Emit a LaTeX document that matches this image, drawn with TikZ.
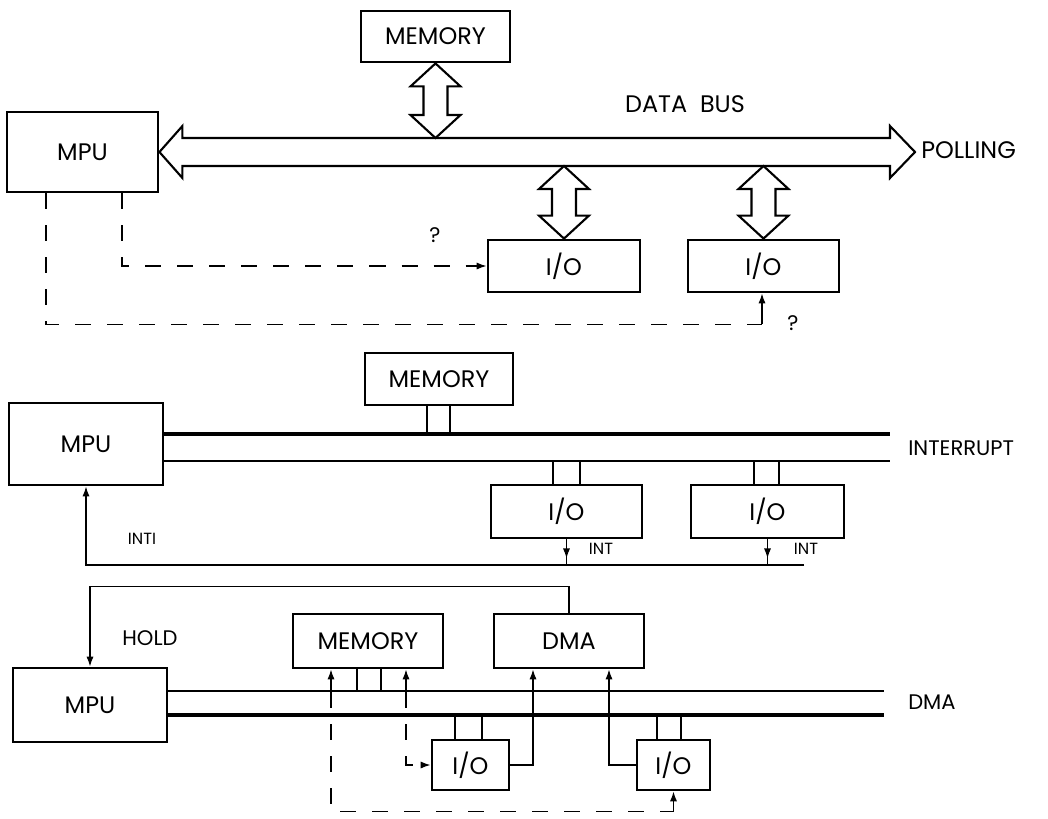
\documentclass[tikz,border=0pt]{standalone}
\usepackage{fontspec}
\setmainfont{Poppins}
\usetikzlibrary{arrows.meta,calc}
\newcommand\vdarrow[2]{\draw[fatarrow] (#1) -- ++(25,23) -- ++(-13,0) -- ($(#2)+(12,-23)$) -- ++(13,0) -- (#2) -- ++(-25,-23) -- ++(13,0) -- ($(#1)+(-12,23)$) -- ++(-13,0) -- cycle;}
\begin{document}
\begin{tikzpicture}[x=0.025cm,y=-0.025cm,
  box/.style={draw,line width=2pt,inner sep=0pt,font=\fontsize{17}{20}\selectfont},
  bigtxt/.style={font=\fontsize{17}{20}\selectfont,inner sep=0pt},
  midtxt/.style={font=\fontsize{15}{18}\selectfont,inner sep=0pt},
  smalltxt/.style={font=\fontsize{11.5}{13}\selectfont,inner sep=0pt},
  qtxt/.style={font=\fontsize{15}{18}\selectfont,inner sep=0pt},
  wire/.style={line width=1pt},
  thinbus/.style={line width=1.4pt},
  thickbus/.style={line width=2.2pt},
  dashwire/.style={line width=1pt,dash pattern=on 0.4cm off 0.4cm},
  tip/.style={-{Latex[length=0.25cm,width=0.18cm]}},
  fatarrow/.style={line width=1.5pt,fill=white,line join=miter},
]
\useasboundingbox (0,0) rectangle (1048,818);

% ---------- POLLING ----------
\node[box,minimum width=3.725cm,minimum height=1.275cm] (mem1) at (435.5,36.5) {MEMORY};
\node[box,minimum width=3.775cm,minimum height=2cm] (mpu1) at (82.5,152) {MPU};
\node[box,minimum width=3.8cm,minimum height=1.3cm] (io1a) at (564,266) {I/O};
\node[box,minimum width=3.775cm,minimum height=1.3cm] (io1b) at (763.5,266) {I/O};
\coordinate (pollR) at (915,152);
\coordinate (b1t) at ($(mpu1.east)+(0,-14)$);
\coordinate (b1b) at ($(mpu1.east)+(0,14)$);
\node[bigtxt] (databus) at (685,104) {DATA\ \ BUS};
\node[bigtxt,anchor=west] (polling) at (921,150) {POLLING};

\draw[fatarrow] (mpu1.east) -- ++(23,-26) -- ++(0,12) -- ($(pollR)+(-25,-14)$) -- ++(0,-12) -- (pollR) -- ++(-25,26) -- ++(0,-12) -- ($(mpu1.east)+(23,14)$) -- ++(0,12) -- cycle;
\coordinate (m1b) at (mem1.south |- b1t);
\vdarrow{mem1.south}{m1b}
\coordinate (i1at) at (io1a.north |- b1b);
\vdarrow{i1at}{io1a.north}
\coordinate (i1bt) at (io1b.north |- b1b);
\vdarrow{i1bt}{io1b.north}

\draw[dashwire,tip] ($(mpu1.south)+(39.5,0)$) |- (io1a.west);
\coordinate (p2c) at ($(io1b.south)+(-1.5,31)$);
\draw[dashwire] ($(mpu1.south)+(-36.5,0)$) |- (p2c);
\draw[wire,tip] (p2c) -- ($(io1b.south)+(-1.5,0)$);
\node[qtxt] (q1) at (435,235) {?};
\node[qtxt] (q2) at (793,323) {?};

% ---------- INTERRUPT ----------
\node[box,minimum width=3.7cm,minimum height=1.3cm] (mem2) at (439,379) {MEMORY};
\node[box,minimum width=3.85cm,minimum height=2.05cm] (mpu2) at (86,444) {MPU};
\node[box,minimum width=3.775cm,minimum height=1.325cm] (io2a) at (566.5,511.5) {I/O};
\node[box,minimum width=3.825cm,minimum height=1.325cm] (io2b) at (767.5,511.5) {I/O};
\coordinate (b2t) at ($(mpu2.east)+(0,-10)$);
\coordinate (b2b) at ($(mpu2.east)+(0,17)$);
\coordinate (b2end) at (890,447);
\draw[thickbus] (b2t) -- (b2t -| b2end);
\draw[thinbus] (b2b) -- (b2b -| b2end);
\node[midtxt,anchor=west] (interrupt) at (908,448) {INTERRUPT};

\draw[wire] ($(mem2.south)+(-12,0)$) -- ($(mem2.south)+(-12,29)$);
\draw[wire] ($(mem2.south)+(11,0)$) -- ($(mem2.south)+(11,29)$);
\draw[wire] ($(io2a.north)+(-13.5,0)$) -- ($(io2a.north)+(-13.5,-24)$);
\draw[wire] ($(io2a.north)+(13.5,0)$) -- ($(io2a.north)+(13.5,-24)$);
\draw[wire] ($(io2b.north)+(-13.5,0)$) -- ($(io2b.north)+(-13.5,-24)$);
\draw[wire] ($(io2b.north)+(11.5,0)$) -- ($(io2b.north)+(11.5,-24)$);

\coordinate (intR) at (804,565);
\draw[wire,tip] (intR) -- (mpu2.south |- intR) -- (mpu2.south);
\draw[wire] (io2a.south) -- (io2a.south |- intR);
\draw[wire,tip] (io2a.south) -- ++(0,19);
\draw[wire] (io2b.south) -- (io2b.south |- intR);
\draw[wire,tip] (io2b.south) -- ++(0,19);
\node[smalltxt] (int1) at (601,549) {INT};
\node[smalltxt] (int2) at (806,549) {INT};
\node[smalltxt] (inti) at (142,539) {INTI};

% ---------- DMA ----------
\node[box,minimum width=3.75cm,minimum height=1.35cm] (mem3) at (368,641) {MEMORY};
\node[box,minimum width=3.75cm,minimum height=1.35cm] (dma) at (569,641) {DMA};
\node[box,minimum width=3.85cm,minimum height=1.85cm] (mpu3) at (90,705) {MPU};
\node[box,minimum width=1.925cm,minimum height=1.25cm] (io3a) at (470.5,765) {I/O};
\node[box,minimum width=1.825cm,minimum height=1.25cm] (io3b) at (673.5,765) {I/O};
\coordinate (b3t) at ($(mpu3.east)+(0,-14)$);
\coordinate (b3b) at ($(mpu3.east)+(0,10)$);
\coordinate (b3end) at (884,703);
\draw[thinbus] (b3t) -- (b3t -| b3end);
\draw[thickbus] (b3b) -- (b3b -| b3end);
\node[midtxt,anchor=west] (dmalbl) at (908,702) {DMA};
\node[midtxt] (hold) at (150,638) {HOLD};

\draw[wire,tip] (dma.north) -- ++(0,-26) -| (mpu3.north);

\draw[wire] ($(mem3.south)+(-11,0)$) -- ($(mem3.south)+(-11,23)$);
\draw[wire] ($(mem3.south)+(13,0)$) -- ($(mem3.south)+(13,23)$);
\draw[wire] ($(io3a.north)+(-15.5,0)$) -- ($(io3a.north)+(-15.5,-25)$);
\draw[wire] ($(io3a.north)+(11.5,0)$) -- ($(io3a.north)+(11.5,-25)$);
\draw[wire] ($(io3b.north)+(-16.5,0)$) -- ($(io3b.north)+(-16.5,-25)$);
\draw[wire] ($(io3b.north)+(7.5,0)$) -- ($(io3b.north)+(7.5,-25)$);

% memory dashed requests
\coordinate (d1) at ($(mem3.south)+(-37,0)$);
\coordinate (d2) at ($(mem3.south)+(38,0)$);
\draw[wire,tip] ($(d1)+(0,23)$) -- (d1);
\draw[wire,tip] ($(d2)+(0,23)$) -- (d2);
\coordinate (bot) at ($(d1)+(0,142)$);
\draw[dashwire] ($(d1)+(0,23)$) -- (bot) -- (bot -| io3b.south);
\draw[wire,tip] (bot -| io3b.south) -- (io3b.south);
\draw[dashwire,tip] ($(d2)+(0,23)$) |- (io3a.west);

% I/O to DMA requests
\coordinate (c1) at ($(dma.south)+(-36,0)$);
\coordinate (c2) at ($(dma.south)+(40,0)$);
\draw[wire,tip] (io3a.east) -| (c1);
\draw[wire,tip] (io3b.west) -| (c2);
\end{tikzpicture}
\end{document}
